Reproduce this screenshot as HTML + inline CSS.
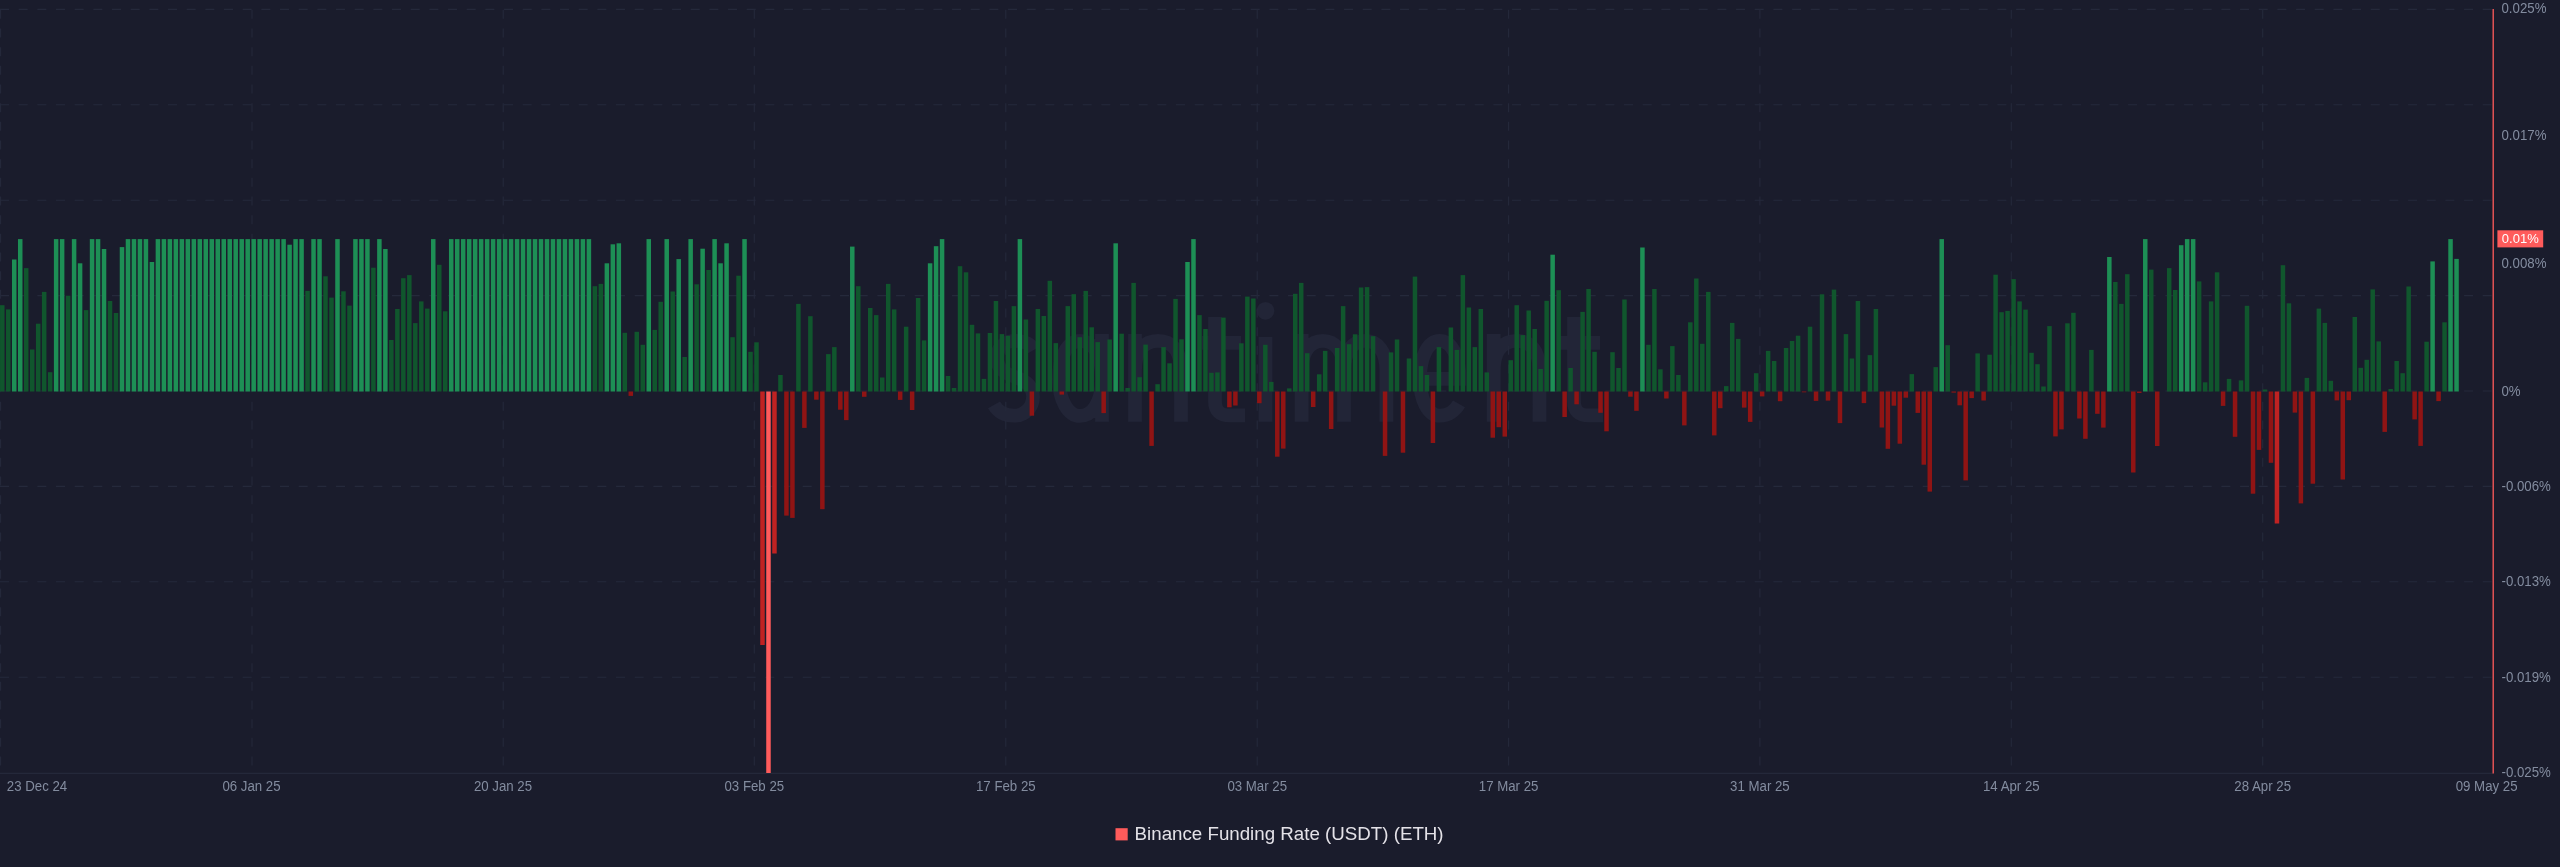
<!DOCTYPE html>
<html><head><meta charset="utf-8"><style>
html,body{margin:0;padding:0;background:#1a1c2c;width:2560px;height:867px;overflow:hidden}
svg{display:block;will-change:transform;filter:blur(0.3px)}
</style></head><body>
<svg width="2560" height="867" viewBox="0 0 2560 867">
<style>.t{font-family:"Liberation Sans",sans-serif;font-size:13.25px;fill:#838c9f}</style>
<rect width="2560" height="867" fill="#1a1c2c"/>
<path d="M1034 349.9 C1030 342.9 1023 340.9 1015 340.9 C1004 340.9 997 347.9 997 357.9 C997 369.9 1007 373.9 1015 376.9 C1026 380.9 1033 385.9 1033 396.9 C1033 406.9 1025 415.7 1014 415.7 C1005 415.7 998 411.9 994 404.9 M1102 334.0 V421.8 M1102 378.9 C1102 352.9 1092 340.9 1080 340.9 C1068 340.9 1059 355.9 1059 378.9 C1059 399.9 1068 415.9 1080 415.9 C1092 415.9 1102 402.9 1102 378.9 M1135 334.0 V421.8 M1135 421.8 V370.9 C1135 350.9 1144.0 340.9 1158.0 340.9 C1172.0 340.9 1181 350.9 1181 370.9 V421.8 M1215 317 V400.9 C1215 410.9 1220 415.4 1230 415.4 L1245 415.4 M1202 342.9 H1241 M1265.5 337.0 V421.8 M1301.6 334.0 V421.8 M1301.6 421.8 V370.9 C1301.6 350.9 1310.6 340.9 1322.8 340.9 C1335.0 340.9 1344 350.9 1344 370.9 V421.8 M1344 421.8 V370.9 C1344 350.9 1353.0 340.9 1365.2 340.9 C1377.4 340.9 1386.4 350.9 1386.4 370.9 V421.8 M1420 378.9 H1459.5 C1459.5 354.9 1451 340.9 1439.5 340.9 C1428 340.9 1420 356.9 1420 378.9 C1420 399.9 1428 415.7 1440 415.7 C1448 415.7 1455 410.9 1459 403.9 M1493.7 334.0 V421.8 M1493.7 421.8 V370.9 C1493.7 350.9 1502.7 340.9 1516.6 340.9 C1530.5 340.9 1539.5 350.9 1539.5 370.9 V421.8 M1574 317 V400.9 C1574 410.9 1579 415.4 1589 415.4 L1603 415.4 M1560 342.9 H1600" fill="none" stroke="#222537" stroke-width="13.8" stroke-linecap="butt"/><circle cx="1265.5" cy="310.8" r="8.9" fill="#222537"/>
<line x1="0" y1="9.4" x2="2493" y2="9.4" stroke="#25293b" stroke-width="1.1" stroke-dasharray="9 9.667"/>
<line x1="0" y1="104.8" x2="2493" y2="104.8" stroke="#25293b" stroke-width="1.1" stroke-dasharray="9 9.667"/>
<line x1="0" y1="200.2" x2="2493" y2="200.2" stroke="#25293b" stroke-width="1.1" stroke-dasharray="9 9.667"/>
<line x1="0" y1="295.6" x2="2493" y2="295.6" stroke="#25293b" stroke-width="1.1" stroke-dasharray="9 9.667"/>
<line x1="0" y1="391.0" x2="2493" y2="391.0" stroke="#25293b" stroke-width="1.1" stroke-dasharray="9 9.667"/>
<line x1="0" y1="486.4" x2="2493" y2="486.4" stroke="#25293b" stroke-width="1.1" stroke-dasharray="9 9.667"/>
<line x1="0" y1="581.8" x2="2493" y2="581.8" stroke="#25293b" stroke-width="1.1" stroke-dasharray="9 9.667"/>
<line x1="0" y1="677.2" x2="2493" y2="677.2" stroke="#25293b" stroke-width="1.1" stroke-dasharray="9 9.667"/>
<line x1="0.6" y1="9.8" x2="0.6" y2="773" stroke="#25293b" stroke-width="1.1" stroke-dasharray="9 9.667"/>
<line x1="252" y1="9.8" x2="252" y2="773" stroke="#25293b" stroke-width="1.1" stroke-dasharray="9 9.667"/>
<line x1="503.2" y1="9.8" x2="503.2" y2="773" stroke="#25293b" stroke-width="1.1" stroke-dasharray="9 9.667"/>
<line x1="754.3" y1="9.8" x2="754.3" y2="773" stroke="#25293b" stroke-width="1.1" stroke-dasharray="9 9.667"/>
<line x1="1005.8" y1="9.8" x2="1005.8" y2="773" stroke="#25293b" stroke-width="1.1" stroke-dasharray="9 9.667"/>
<line x1="1257.2" y1="9.8" x2="1257.2" y2="773" stroke="#25293b" stroke-width="1.1" stroke-dasharray="9 9.667"/>
<line x1="1508.6" y1="9.8" x2="1508.6" y2="773" stroke="#25293b" stroke-width="1.1" stroke-dasharray="9 9.667"/>
<line x1="1759.9" y1="9.8" x2="1759.9" y2="773" stroke="#25293b" stroke-width="1.1" stroke-dasharray="9 9.667"/>
<line x1="2011.3" y1="9.8" x2="2011.3" y2="773" stroke="#25293b" stroke-width="1.1" stroke-dasharray="9 9.667"/>
<line x1="2262.7" y1="9.8" x2="2262.7" y2="773" stroke="#25293b" stroke-width="1.1" stroke-dasharray="9 9.667"/>
<line x1="0" y1="773.4" x2="2493" y2="773.4" stroke="#24283a" stroke-width="1.2"/>
<rect x="0.02" y="305.20" width="4.5" height="86.30" fill="#10562d"/>
<rect x="6.01" y="309.40" width="4.5" height="82.10" fill="#10562d"/>
<rect x="11.99" y="259.50" width="4.5" height="132.00" fill="#1d8f55"/>
<rect x="17.98" y="239.10" width="4.5" height="152.40" fill="#1d8f55"/>
<rect x="23.96" y="268.10" width="4.5" height="123.40" fill="#10562d"/>
<rect x="29.95" y="349.50" width="4.5" height="42.00" fill="#10562d"/>
<rect x="35.94" y="323.70" width="4.5" height="67.80" fill="#10562d"/>
<rect x="41.92" y="291.90" width="4.5" height="99.60" fill="#10562d"/>
<rect x="47.91" y="372.20" width="4.5" height="19.30" fill="#10562d"/>
<rect x="53.89" y="239.10" width="4.5" height="152.40" fill="#1d8f55"/>
<rect x="59.88" y="239.10" width="4.5" height="152.40" fill="#1d8f55"/>
<rect x="65.87" y="295.70" width="4.5" height="95.80" fill="#10562d"/>
<rect x="71.85" y="239.10" width="4.5" height="152.40" fill="#1d8f55"/>
<rect x="77.84" y="263.30" width="4.5" height="128.20" fill="#1d8f55"/>
<rect x="83.82" y="310.10" width="4.5" height="81.40" fill="#10562d"/>
<rect x="89.81" y="239.10" width="4.5" height="152.40" fill="#1d8f55"/>
<rect x="95.80" y="239.10" width="4.5" height="152.40" fill="#1d8f55"/>
<rect x="101.78" y="249.00" width="4.5" height="142.50" fill="#1d8f55"/>
<rect x="107.77" y="301.00" width="4.5" height="90.50" fill="#10562d"/>
<rect x="113.75" y="313.00" width="4.5" height="78.50" fill="#10562d"/>
<rect x="119.74" y="247.10" width="4.5" height="144.40" fill="#1d8f55"/>
<rect x="125.73" y="239.10" width="4.5" height="152.40" fill="#1d8f55"/>
<rect x="131.71" y="239.10" width="4.5" height="152.40" fill="#1d8f55"/>
<rect x="137.70" y="239.10" width="4.5" height="152.40" fill="#1d8f55"/>
<rect x="143.68" y="239.10" width="4.5" height="152.40" fill="#1d8f55"/>
<rect x="149.67" y="262.00" width="4.5" height="129.50" fill="#1d8f55"/>
<rect x="155.66" y="239.10" width="4.5" height="152.40" fill="#1d8f55"/>
<rect x="161.64" y="239.10" width="4.5" height="152.40" fill="#1d8f55"/>
<rect x="167.63" y="239.10" width="4.5" height="152.40" fill="#1d8f55"/>
<rect x="173.61" y="239.10" width="4.5" height="152.40" fill="#1d8f55"/>
<rect x="179.60" y="239.10" width="4.5" height="152.40" fill="#1d8f55"/>
<rect x="185.59" y="239.10" width="4.5" height="152.40" fill="#1d8f55"/>
<rect x="191.57" y="239.10" width="4.5" height="152.40" fill="#1d8f55"/>
<rect x="197.56" y="239.10" width="4.5" height="152.40" fill="#1d8f55"/>
<rect x="203.54" y="239.10" width="4.5" height="152.40" fill="#1d8f55"/>
<rect x="209.53" y="239.10" width="4.5" height="152.40" fill="#1d8f55"/>
<rect x="215.52" y="239.10" width="4.5" height="152.40" fill="#1d8f55"/>
<rect x="221.50" y="239.10" width="4.5" height="152.40" fill="#1d8f55"/>
<rect x="227.49" y="239.10" width="4.5" height="152.40" fill="#1d8f55"/>
<rect x="233.47" y="239.10" width="4.5" height="152.40" fill="#1d8f55"/>
<rect x="239.46" y="239.10" width="4.5" height="152.40" fill="#1d8f55"/>
<rect x="245.45" y="239.10" width="4.5" height="152.40" fill="#1d8f55"/>
<rect x="251.43" y="239.10" width="4.5" height="152.40" fill="#1d8f55"/>
<rect x="257.42" y="239.10" width="4.5" height="152.40" fill="#1d8f55"/>
<rect x="263.40" y="239.10" width="4.5" height="152.40" fill="#1d8f55"/>
<rect x="269.39" y="239.10" width="4.5" height="152.40" fill="#1d8f55"/>
<rect x="275.38" y="239.10" width="4.5" height="152.40" fill="#1d8f55"/>
<rect x="281.36" y="239.10" width="4.5" height="152.40" fill="#1d8f55"/>
<rect x="287.35" y="244.70" width="4.5" height="146.80" fill="#1d8f55"/>
<rect x="293.33" y="239.10" width="4.5" height="152.40" fill="#1d8f55"/>
<rect x="299.32" y="239.10" width="4.5" height="152.40" fill="#1d8f55"/>
<rect x="305.31" y="290.90" width="4.5" height="100.60" fill="#10562d"/>
<rect x="311.29" y="239.10" width="4.5" height="152.40" fill="#1d8f55"/>
<rect x="317.28" y="239.10" width="4.5" height="152.40" fill="#1d8f55"/>
<rect x="323.26" y="276.30" width="4.5" height="115.20" fill="#10562d"/>
<rect x="329.25" y="297.60" width="4.5" height="93.90" fill="#10562d"/>
<rect x="335.24" y="239.10" width="4.5" height="152.40" fill="#1d8f55"/>
<rect x="341.22" y="291.30" width="4.5" height="100.20" fill="#10562d"/>
<rect x="347.21" y="305.60" width="4.5" height="85.90" fill="#10562d"/>
<rect x="353.19" y="239.10" width="4.5" height="152.40" fill="#1d8f55"/>
<rect x="359.18" y="239.10" width="4.5" height="152.40" fill="#1d8f55"/>
<rect x="365.17" y="239.10" width="4.5" height="152.40" fill="#1d8f55"/>
<rect x="371.15" y="267.70" width="4.5" height="123.80" fill="#10562d"/>
<rect x="377.14" y="239.10" width="4.5" height="152.40" fill="#1d8f55"/>
<rect x="383.12" y="249.00" width="4.5" height="142.50" fill="#1d8f55"/>
<rect x="389.11" y="340.00" width="4.5" height="51.50" fill="#10562d"/>
<rect x="395.10" y="309.00" width="4.5" height="82.50" fill="#10562d"/>
<rect x="401.08" y="278.20" width="4.5" height="113.30" fill="#10562d"/>
<rect x="407.07" y="275.10" width="4.5" height="116.40" fill="#10562d"/>
<rect x="413.05" y="323.10" width="4.5" height="68.40" fill="#10562d"/>
<rect x="419.04" y="301.40" width="4.5" height="90.10" fill="#10562d"/>
<rect x="425.03" y="308.60" width="4.5" height="82.90" fill="#10562d"/>
<rect x="431.01" y="239.10" width="4.5" height="152.40" fill="#1d8f55"/>
<rect x="437.00" y="264.80" width="4.5" height="126.70" fill="#10562d"/>
<rect x="442.98" y="311.30" width="4.5" height="80.20" fill="#10562d"/>
<rect x="448.97" y="239.10" width="4.5" height="152.40" fill="#1d8f55"/>
<rect x="454.96" y="239.10" width="4.5" height="152.40" fill="#1d8f55"/>
<rect x="460.94" y="239.10" width="4.5" height="152.40" fill="#1d8f55"/>
<rect x="466.93" y="239.10" width="4.5" height="152.40" fill="#1d8f55"/>
<rect x="472.91" y="239.10" width="4.5" height="152.40" fill="#1d8f55"/>
<rect x="478.90" y="239.10" width="4.5" height="152.40" fill="#1d8f55"/>
<rect x="484.89" y="239.10" width="4.5" height="152.40" fill="#1d8f55"/>
<rect x="490.87" y="239.10" width="4.5" height="152.40" fill="#1d8f55"/>
<rect x="496.86" y="239.10" width="4.5" height="152.40" fill="#1d8f55"/>
<rect x="502.84" y="239.10" width="4.5" height="152.40" fill="#1d8f55"/>
<rect x="508.83" y="239.10" width="4.5" height="152.40" fill="#1d8f55"/>
<rect x="514.82" y="239.10" width="4.5" height="152.40" fill="#1d8f55"/>
<rect x="520.80" y="239.10" width="4.5" height="152.40" fill="#1d8f55"/>
<rect x="526.79" y="239.10" width="4.5" height="152.40" fill="#1d8f55"/>
<rect x="532.77" y="239.10" width="4.5" height="152.40" fill="#1d8f55"/>
<rect x="538.76" y="239.10" width="4.5" height="152.40" fill="#1d8f55"/>
<rect x="544.75" y="239.10" width="4.5" height="152.40" fill="#1d8f55"/>
<rect x="550.73" y="239.10" width="4.5" height="152.40" fill="#1d8f55"/>
<rect x="556.72" y="239.10" width="4.5" height="152.40" fill="#1d8f55"/>
<rect x="562.70" y="239.10" width="4.5" height="152.40" fill="#1d8f55"/>
<rect x="568.69" y="239.10" width="4.5" height="152.40" fill="#1d8f55"/>
<rect x="574.68" y="239.10" width="4.5" height="152.40" fill="#1d8f55"/>
<rect x="580.66" y="239.10" width="4.5" height="152.40" fill="#1d8f55"/>
<rect x="586.65" y="239.10" width="4.5" height="152.40" fill="#1d8f55"/>
<rect x="592.63" y="286.20" width="4.5" height="105.30" fill="#10562d"/>
<rect x="598.62" y="283.90" width="4.5" height="107.60" fill="#10562d"/>
<rect x="604.61" y="263.30" width="4.5" height="128.20" fill="#1d8f55"/>
<rect x="610.59" y="244.30" width="4.5" height="147.20" fill="#1d8f55"/>
<rect x="616.58" y="243.30" width="4.5" height="148.20" fill="#1d8f55"/>
<rect x="622.56" y="332.80" width="4.5" height="58.70" fill="#10562d"/>
<rect x="628.55" y="391.5" width="4.5" height="4.40" fill="#901414"/>
<rect x="634.54" y="331.80" width="4.5" height="59.70" fill="#10562d"/>
<rect x="640.52" y="344.80" width="4.5" height="46.70" fill="#10562d"/>
<rect x="646.51" y="239.10" width="4.5" height="152.40" fill="#1d8f55"/>
<rect x="652.49" y="329.90" width="4.5" height="61.60" fill="#10562d"/>
<rect x="658.48" y="301.80" width="4.5" height="89.70" fill="#10562d"/>
<rect x="664.47" y="239.10" width="4.5" height="152.40" fill="#1d8f55"/>
<rect x="670.45" y="291.50" width="4.5" height="100.00" fill="#10562d"/>
<rect x="676.44" y="259.10" width="4.5" height="132.40" fill="#1d8f55"/>
<rect x="682.42" y="357.00" width="4.5" height="34.50" fill="#10562d"/>
<rect x="688.41" y="239.10" width="4.5" height="152.40" fill="#1d8f55"/>
<rect x="694.40" y="284.30" width="4.5" height="107.20" fill="#10562d"/>
<rect x="700.38" y="248.70" width="4.5" height="142.80" fill="#1d8f55"/>
<rect x="706.37" y="270.00" width="4.5" height="121.50" fill="#10562d"/>
<rect x="712.35" y="239.10" width="4.5" height="152.40" fill="#1d8f55"/>
<rect x="718.34" y="263.30" width="4.5" height="128.20" fill="#1d8f55"/>
<rect x="724.33" y="243.30" width="4.5" height="148.20" fill="#1d8f55"/>
<rect x="730.31" y="337.20" width="4.5" height="54.30" fill="#10562d"/>
<rect x="736.30" y="275.70" width="4.5" height="115.80" fill="#10562d"/>
<rect x="742.28" y="239.10" width="4.5" height="152.40" fill="#1d8f55"/>
<rect x="748.27" y="351.80" width="4.5" height="39.70" fill="#10562d"/>
<rect x="754.26" y="342.30" width="4.5" height="49.20" fill="#10562d"/>
<rect x="760.24" y="391.5" width="4.5" height="253.50" fill="#c02222"/>
<rect x="766.23" y="391.5" width="4.5" height="381.50" fill="#ff5b5b"/>
<rect x="772.21" y="391.5" width="4.5" height="162.00" fill="#c02222"/>
<rect x="778.20" y="375.00" width="4.5" height="16.50" fill="#10562d"/>
<rect x="784.19" y="391.5" width="4.5" height="124.10" fill="#901414"/>
<rect x="790.17" y="391.5" width="4.5" height="126.40" fill="#901414"/>
<rect x="796.16" y="303.90" width="4.5" height="87.60" fill="#10562d"/>
<rect x="802.14" y="391.5" width="4.5" height="36.40" fill="#901414"/>
<rect x="808.13" y="316.20" width="4.5" height="75.30" fill="#10562d"/>
<rect x="814.12" y="391.5" width="4.5" height="8.20" fill="#901414"/>
<rect x="820.10" y="391.5" width="4.5" height="117.70" fill="#901414"/>
<rect x="826.09" y="354.10" width="4.5" height="37.40" fill="#10562d"/>
<rect x="832.07" y="347.10" width="4.5" height="44.40" fill="#10562d"/>
<rect x="838.06" y="391.5" width="4.5" height="18.20" fill="#901414"/>
<rect x="844.05" y="391.5" width="4.5" height="28.60" fill="#901414"/>
<rect x="850.03" y="246.60" width="4.5" height="144.90" fill="#1d8f55"/>
<rect x="856.02" y="286.20" width="4.5" height="105.30" fill="#10562d"/>
<rect x="862.00" y="391.5" width="4.5" height="5.30" fill="#901414"/>
<rect x="867.99" y="308.00" width="4.5" height="83.50" fill="#10562d"/>
<rect x="873.98" y="315.10" width="4.5" height="76.40" fill="#10562d"/>
<rect x="879.96" y="377.50" width="4.5" height="14.00" fill="#10562d"/>
<rect x="885.95" y="283.90" width="4.5" height="107.60" fill="#10562d"/>
<rect x="891.93" y="309.40" width="4.5" height="82.10" fill="#10562d"/>
<rect x="897.92" y="391.5" width="4.5" height="8.40" fill="#901414"/>
<rect x="903.91" y="326.70" width="4.5" height="64.80" fill="#10562d"/>
<rect x="909.89" y="391.5" width="4.5" height="18.50" fill="#901414"/>
<rect x="915.88" y="298.00" width="4.5" height="93.50" fill="#10562d"/>
<rect x="921.86" y="340.40" width="4.5" height="51.10" fill="#10562d"/>
<rect x="927.85" y="263.30" width="4.5" height="128.20" fill="#1d8f55"/>
<rect x="933.84" y="246.20" width="4.5" height="145.30" fill="#1d8f55"/>
<rect x="939.82" y="239.10" width="4.5" height="152.40" fill="#1d8f55"/>
<rect x="945.81" y="376.00" width="4.5" height="15.50" fill="#10562d"/>
<rect x="951.79" y="388.00" width="4.5" height="3.50" fill="#10562d"/>
<rect x="957.78" y="266.20" width="4.5" height="125.30" fill="#10562d"/>
<rect x="963.77" y="272.30" width="4.5" height="119.20" fill="#10562d"/>
<rect x="969.75" y="324.80" width="4.5" height="66.70" fill="#10562d"/>
<rect x="975.74" y="333.40" width="4.5" height="58.10" fill="#10562d"/>
<rect x="981.72" y="378.90" width="4.5" height="12.60" fill="#10562d"/>
<rect x="987.71" y="333.00" width="4.5" height="58.50" fill="#10562d"/>
<rect x="993.70" y="301.00" width="4.5" height="90.50" fill="#10562d"/>
<rect x="999.68" y="334.10" width="4.5" height="57.40" fill="#10562d"/>
<rect x="1005.67" y="335.80" width="4.5" height="55.70" fill="#10562d"/>
<rect x="1011.65" y="306.10" width="4.5" height="85.40" fill="#10562d"/>
<rect x="1017.64" y="239.10" width="4.5" height="152.40" fill="#1d8f55"/>
<rect x="1023.63" y="319.50" width="4.5" height="72.00" fill="#10562d"/>
<rect x="1029.61" y="391.5" width="4.5" height="24.20" fill="#901414"/>
<rect x="1035.60" y="309.00" width="4.5" height="82.50" fill="#10562d"/>
<rect x="1041.58" y="316.00" width="4.5" height="75.50" fill="#10562d"/>
<rect x="1047.57" y="280.80" width="4.5" height="110.70" fill="#10562d"/>
<rect x="1053.56" y="343.10" width="4.5" height="48.40" fill="#10562d"/>
<rect x="1059.54" y="391.5" width="4.5" height="3.10" fill="#901414"/>
<rect x="1065.53" y="306.10" width="4.5" height="85.40" fill="#10562d"/>
<rect x="1071.51" y="294.20" width="4.5" height="97.30" fill="#10562d"/>
<rect x="1077.50" y="337.20" width="4.5" height="54.30" fill="#10562d"/>
<rect x="1083.49" y="290.90" width="4.5" height="100.60" fill="#10562d"/>
<rect x="1089.47" y="327.30" width="4.5" height="64.20" fill="#10562d"/>
<rect x="1095.46" y="342.10" width="4.5" height="49.40" fill="#10562d"/>
<rect x="1101.44" y="391.5" width="4.5" height="21.60" fill="#901414"/>
<rect x="1107.43" y="339.50" width="4.5" height="52.00" fill="#10562d"/>
<rect x="1113.42" y="243.30" width="4.5" height="148.20" fill="#1d8f55"/>
<rect x="1119.40" y="333.70" width="4.5" height="57.80" fill="#10562d"/>
<rect x="1125.39" y="388.00" width="4.5" height="3.50" fill="#10562d"/>
<rect x="1131.37" y="282.90" width="4.5" height="108.60" fill="#10562d"/>
<rect x="1137.36" y="377.20" width="4.5" height="14.30" fill="#10562d"/>
<rect x="1143.35" y="344.60" width="4.5" height="46.90" fill="#10562d"/>
<rect x="1149.33" y="391.5" width="4.5" height="54.40" fill="#901414"/>
<rect x="1155.32" y="384.20" width="4.5" height="7.30" fill="#10562d"/>
<rect x="1161.30" y="347.10" width="4.5" height="44.40" fill="#10562d"/>
<rect x="1167.29" y="363.30" width="4.5" height="28.20" fill="#10562d"/>
<rect x="1173.28" y="298.90" width="4.5" height="92.60" fill="#10562d"/>
<rect x="1179.26" y="339.30" width="4.5" height="52.20" fill="#10562d"/>
<rect x="1185.25" y="262.00" width="4.5" height="129.50" fill="#1d8f55"/>
<rect x="1191.23" y="239.10" width="4.5" height="152.40" fill="#1d8f55"/>
<rect x="1197.22" y="315.10" width="4.5" height="76.40" fill="#10562d"/>
<rect x="1203.21" y="329.00" width="4.5" height="62.50" fill="#10562d"/>
<rect x="1209.19" y="372.80" width="4.5" height="18.70" fill="#10562d"/>
<rect x="1215.18" y="372.40" width="4.5" height="19.10" fill="#10562d"/>
<rect x="1221.16" y="317.60" width="4.5" height="73.90" fill="#10562d"/>
<rect x="1227.15" y="391.5" width="4.5" height="15.80" fill="#901414"/>
<rect x="1233.14" y="391.5" width="4.5" height="14.00" fill="#901414"/>
<rect x="1239.12" y="343.30" width="4.5" height="48.20" fill="#10562d"/>
<rect x="1245.11" y="296.60" width="4.5" height="94.90" fill="#10562d"/>
<rect x="1251.09" y="298.50" width="4.5" height="93.00" fill="#10562d"/>
<rect x="1257.08" y="391.5" width="4.5" height="11.70" fill="#901414"/>
<rect x="1263.07" y="344.80" width="4.5" height="46.70" fill="#10562d"/>
<rect x="1269.05" y="381.90" width="4.5" height="9.60" fill="#10562d"/>
<rect x="1275.04" y="391.5" width="4.5" height="65.20" fill="#901414"/>
<rect x="1281.02" y="391.5" width="4.5" height="57.10" fill="#901414"/>
<rect x="1287.01" y="388.40" width="4.5" height="3.10" fill="#10562d"/>
<rect x="1293.00" y="293.80" width="4.5" height="97.70" fill="#10562d"/>
<rect x="1298.98" y="282.90" width="4.5" height="108.60" fill="#10562d"/>
<rect x="1304.97" y="353.20" width="4.5" height="38.30" fill="#10562d"/>
<rect x="1310.95" y="391.5" width="4.5" height="15.50" fill="#901414"/>
<rect x="1316.94" y="374.30" width="4.5" height="17.20" fill="#10562d"/>
<rect x="1322.93" y="350.90" width="4.5" height="40.60" fill="#10562d"/>
<rect x="1328.91" y="391.5" width="4.5" height="37.50" fill="#901414"/>
<rect x="1334.90" y="348.00" width="4.5" height="43.50" fill="#10562d"/>
<rect x="1340.88" y="306.10" width="4.5" height="85.40" fill="#10562d"/>
<rect x="1346.87" y="344.20" width="4.5" height="47.30" fill="#10562d"/>
<rect x="1352.86" y="334.30" width="4.5" height="57.20" fill="#10562d"/>
<rect x="1358.84" y="287.50" width="4.5" height="104.00" fill="#10562d"/>
<rect x="1364.83" y="287.10" width="4.5" height="104.40" fill="#10562d"/>
<rect x="1370.81" y="336.20" width="4.5" height="55.30" fill="#10562d"/>
<rect x="1382.79" y="391.5" width="4.5" height="64.40" fill="#901414"/>
<rect x="1388.77" y="352.40" width="4.5" height="39.10" fill="#10562d"/>
<rect x="1394.76" y="339.50" width="4.5" height="52.00" fill="#10562d"/>
<rect x="1400.74" y="391.5" width="4.5" height="61.20" fill="#901414"/>
<rect x="1406.73" y="358.50" width="4.5" height="33.00" fill="#10562d"/>
<rect x="1412.72" y="276.60" width="4.5" height="114.90" fill="#10562d"/>
<rect x="1418.70" y="366.10" width="4.5" height="25.40" fill="#10562d"/>
<rect x="1424.69" y="375.00" width="4.5" height="16.50" fill="#10562d"/>
<rect x="1430.67" y="391.5" width="4.5" height="51.50" fill="#901414"/>
<rect x="1436.66" y="347.10" width="4.5" height="44.40" fill="#10562d"/>
<rect x="1448.63" y="327.50" width="4.5" height="64.00" fill="#10562d"/>
<rect x="1454.62" y="349.90" width="4.5" height="41.60" fill="#10562d"/>
<rect x="1460.60" y="275.10" width="4.5" height="116.40" fill="#10562d"/>
<rect x="1466.59" y="307.50" width="4.5" height="84.00" fill="#10562d"/>
<rect x="1472.58" y="347.10" width="4.5" height="44.40" fill="#10562d"/>
<rect x="1478.56" y="309.00" width="4.5" height="82.50" fill="#10562d"/>
<rect x="1484.55" y="372.40" width="4.5" height="19.10" fill="#10562d"/>
<rect x="1490.53" y="391.5" width="4.5" height="46.20" fill="#901414"/>
<rect x="1496.52" y="391.5" width="4.5" height="35.70" fill="#901414"/>
<rect x="1502.51" y="391.5" width="4.5" height="45.10" fill="#901414"/>
<rect x="1508.49" y="360.20" width="4.5" height="31.30" fill="#10562d"/>
<rect x="1514.48" y="305.20" width="4.5" height="86.30" fill="#10562d"/>
<rect x="1520.46" y="335.10" width="4.5" height="56.40" fill="#10562d"/>
<rect x="1526.45" y="310.50" width="4.5" height="81.00" fill="#10562d"/>
<rect x="1532.44" y="329.00" width="4.5" height="62.50" fill="#10562d"/>
<rect x="1538.42" y="369.00" width="4.5" height="22.50" fill="#10562d"/>
<rect x="1544.41" y="300.80" width="4.5" height="90.70" fill="#10562d"/>
<rect x="1550.39" y="254.70" width="4.5" height="136.80" fill="#1d8f55"/>
<rect x="1556.38" y="290.20" width="4.5" height="101.30" fill="#10562d"/>
<rect x="1562.37" y="391.5" width="4.5" height="25.50" fill="#901414"/>
<rect x="1568.35" y="368.00" width="4.5" height="23.50" fill="#10562d"/>
<rect x="1574.34" y="391.5" width="4.5" height="12.80" fill="#901414"/>
<rect x="1580.32" y="311.90" width="4.5" height="79.60" fill="#10562d"/>
<rect x="1586.31" y="289.00" width="4.5" height="102.50" fill="#10562d"/>
<rect x="1592.30" y="351.80" width="4.5" height="39.70" fill="#10562d"/>
<rect x="1598.28" y="391.5" width="4.5" height="21.30" fill="#901414"/>
<rect x="1604.27" y="391.5" width="4.5" height="39.80" fill="#901414"/>
<rect x="1610.25" y="352.20" width="4.5" height="39.30" fill="#10562d"/>
<rect x="1616.24" y="368.00" width="4.5" height="23.50" fill="#10562d"/>
<rect x="1622.23" y="299.50" width="4.5" height="92.00" fill="#10562d"/>
<rect x="1628.21" y="391.5" width="4.5" height="5.20" fill="#901414"/>
<rect x="1634.20" y="391.5" width="4.5" height="19.30" fill="#901414"/>
<rect x="1640.18" y="247.50" width="4.5" height="144.00" fill="#1d8f55"/>
<rect x="1646.17" y="344.80" width="4.5" height="46.70" fill="#10562d"/>
<rect x="1652.16" y="289.00" width="4.5" height="102.50" fill="#10562d"/>
<rect x="1658.14" y="369.30" width="4.5" height="22.20" fill="#10562d"/>
<rect x="1664.13" y="391.5" width="4.5" height="7.00" fill="#901414"/>
<rect x="1670.11" y="346.10" width="4.5" height="45.40" fill="#10562d"/>
<rect x="1676.10" y="375.00" width="4.5" height="16.50" fill="#10562d"/>
<rect x="1682.09" y="391.5" width="4.5" height="33.90" fill="#901414"/>
<rect x="1688.07" y="322.30" width="4.5" height="69.20" fill="#10562d"/>
<rect x="1694.06" y="278.50" width="4.5" height="113.00" fill="#10562d"/>
<rect x="1700.04" y="343.80" width="4.5" height="47.70" fill="#10562d"/>
<rect x="1706.03" y="291.90" width="4.5" height="99.60" fill="#10562d"/>
<rect x="1712.02" y="391.5" width="4.5" height="43.90" fill="#901414"/>
<rect x="1718.00" y="391.5" width="4.5" height="16.70" fill="#901414"/>
<rect x="1723.99" y="386.10" width="4.5" height="5.40" fill="#10562d"/>
<rect x="1729.97" y="322.90" width="4.5" height="68.60" fill="#10562d"/>
<rect x="1735.96" y="338.90" width="4.5" height="52.60" fill="#10562d"/>
<rect x="1741.95" y="391.5" width="4.5" height="16.10" fill="#901414"/>
<rect x="1747.93" y="391.5" width="4.5" height="30.40" fill="#901414"/>
<rect x="1753.92" y="373.20" width="4.5" height="18.30" fill="#10562d"/>
<rect x="1759.90" y="391.5" width="4.5" height="4.90" fill="#901414"/>
<rect x="1765.89" y="350.90" width="4.5" height="40.60" fill="#10562d"/>
<rect x="1771.88" y="361.00" width="4.5" height="30.50" fill="#10562d"/>
<rect x="1777.86" y="391.5" width="4.5" height="9.70" fill="#901414"/>
<rect x="1783.85" y="348.00" width="4.5" height="43.50" fill="#10562d"/>
<rect x="1789.83" y="341.00" width="4.5" height="50.50" fill="#10562d"/>
<rect x="1795.82" y="335.70" width="4.5" height="55.80" fill="#10562d"/>
<rect x="1801.81" y="391.5" width="4.5" height="0.80" fill="#901414"/>
<rect x="1807.79" y="326.70" width="4.5" height="64.80" fill="#10562d"/>
<rect x="1813.78" y="391.5" width="4.5" height="9.40" fill="#901414"/>
<rect x="1819.76" y="294.30" width="4.5" height="97.20" fill="#10562d"/>
<rect x="1825.75" y="391.5" width="4.5" height="9.10" fill="#901414"/>
<rect x="1831.74" y="289.60" width="4.5" height="101.90" fill="#10562d"/>
<rect x="1837.72" y="391.5" width="4.5" height="31.60" fill="#901414"/>
<rect x="1843.71" y="334.10" width="4.5" height="57.40" fill="#10562d"/>
<rect x="1849.69" y="358.50" width="4.5" height="33.00" fill="#10562d"/>
<rect x="1855.68" y="301.00" width="4.5" height="90.50" fill="#10562d"/>
<rect x="1861.67" y="391.5" width="4.5" height="11.60" fill="#901414"/>
<rect x="1867.65" y="355.10" width="4.5" height="36.40" fill="#10562d"/>
<rect x="1873.64" y="309.00" width="4.5" height="82.50" fill="#10562d"/>
<rect x="1879.62" y="391.5" width="4.5" height="36.00" fill="#901414"/>
<rect x="1885.61" y="391.5" width="4.5" height="57.30" fill="#901414"/>
<rect x="1891.60" y="391.5" width="4.5" height="14.20" fill="#901414"/>
<rect x="1897.58" y="391.5" width="4.5" height="52.20" fill="#901414"/>
<rect x="1903.57" y="391.5" width="4.5" height="6.20" fill="#901414"/>
<rect x="1909.55" y="374.10" width="4.5" height="17.40" fill="#10562d"/>
<rect x="1915.54" y="391.5" width="4.5" height="21.40" fill="#901414"/>
<rect x="1921.53" y="391.5" width="4.5" height="73.20" fill="#901414"/>
<rect x="1927.51" y="391.5" width="4.5" height="100.10" fill="#901414"/>
<rect x="1933.50" y="367.10" width="4.5" height="24.40" fill="#10562d"/>
<rect x="1939.48" y="239.10" width="4.5" height="152.40" fill="#1d8f55"/>
<rect x="1945.47" y="345.20" width="4.5" height="46.30" fill="#10562d"/>
<rect x="1951.46" y="391.5" width="4.5" height="1.10" fill="#901414"/>
<rect x="1957.44" y="391.5" width="4.5" height="13.80" fill="#901414"/>
<rect x="1963.43" y="391.5" width="4.5" height="88.90" fill="#901414"/>
<rect x="1969.41" y="391.5" width="4.5" height="6.60" fill="#901414"/>
<rect x="1975.40" y="353.40" width="4.5" height="38.10" fill="#10562d"/>
<rect x="1981.39" y="391.5" width="4.5" height="9.00" fill="#901414"/>
<rect x="1987.37" y="354.70" width="4.5" height="36.80" fill="#10562d"/>
<rect x="1993.36" y="274.70" width="4.5" height="116.80" fill="#10562d"/>
<rect x="1999.34" y="312.20" width="4.5" height="79.30" fill="#10562d"/>
<rect x="2005.33" y="310.90" width="4.5" height="80.60" fill="#10562d"/>
<rect x="2011.32" y="279.10" width="4.5" height="112.40" fill="#10562d"/>
<rect x="2017.30" y="301.40" width="4.5" height="90.10" fill="#10562d"/>
<rect x="2023.29" y="309.60" width="4.5" height="81.90" fill="#10562d"/>
<rect x="2029.27" y="352.80" width="4.5" height="38.70" fill="#10562d"/>
<rect x="2035.26" y="364.20" width="4.5" height="27.30" fill="#10562d"/>
<rect x="2041.25" y="386.50" width="4.5" height="5.00" fill="#10562d"/>
<rect x="2047.23" y="326.10" width="4.5" height="65.40" fill="#10562d"/>
<rect x="2053.22" y="391.5" width="4.5" height="44.90" fill="#901414"/>
<rect x="2059.20" y="391.5" width="4.5" height="37.90" fill="#901414"/>
<rect x="2065.19" y="323.30" width="4.5" height="68.20" fill="#10562d"/>
<rect x="2071.18" y="312.80" width="4.5" height="78.70" fill="#10562d"/>
<rect x="2077.16" y="391.5" width="4.5" height="27.00" fill="#901414"/>
<rect x="2083.15" y="391.5" width="4.5" height="47.30" fill="#901414"/>
<rect x="2089.13" y="349.90" width="4.5" height="41.60" fill="#10562d"/>
<rect x="2095.12" y="391.5" width="4.5" height="22.30" fill="#901414"/>
<rect x="2101.11" y="391.5" width="4.5" height="36.10" fill="#901414"/>
<rect x="2107.09" y="257.00" width="4.5" height="134.50" fill="#1d8f55"/>
<rect x="2113.08" y="282.00" width="4.5" height="109.50" fill="#10562d"/>
<rect x="2119.06" y="303.90" width="4.5" height="87.60" fill="#10562d"/>
<rect x="2125.05" y="274.20" width="4.5" height="117.30" fill="#10562d"/>
<rect x="2131.04" y="391.5" width="4.5" height="81.00" fill="#901414"/>
<rect x="2137.02" y="391.5" width="4.5" height="1.50" fill="#901414"/>
<rect x="2143.01" y="239.10" width="4.5" height="152.40" fill="#1d8f55"/>
<rect x="2148.99" y="269.60" width="4.5" height="121.90" fill="#10562d"/>
<rect x="2154.98" y="391.5" width="4.5" height="54.50" fill="#901414"/>
<rect x="2166.95" y="268.10" width="4.5" height="123.40" fill="#10562d"/>
<rect x="2172.94" y="290.00" width="4.5" height="101.50" fill="#10562d"/>
<rect x="2178.92" y="245.20" width="4.5" height="146.30" fill="#1d8f55"/>
<rect x="2184.91" y="239.10" width="4.5" height="152.40" fill="#1d8f55"/>
<rect x="2190.90" y="239.10" width="4.5" height="152.40" fill="#1d8f55"/>
<rect x="2196.88" y="281.40" width="4.5" height="110.10" fill="#10562d"/>
<rect x="2202.87" y="382.30" width="4.5" height="9.20" fill="#10562d"/>
<rect x="2208.85" y="301.40" width="4.5" height="90.10" fill="#10562d"/>
<rect x="2214.84" y="272.30" width="4.5" height="119.20" fill="#10562d"/>
<rect x="2220.83" y="391.5" width="4.5" height="14.40" fill="#901414"/>
<rect x="2226.81" y="378.90" width="4.5" height="12.60" fill="#10562d"/>
<rect x="2232.80" y="391.5" width="4.5" height="45.30" fill="#901414"/>
<rect x="2238.78" y="380.40" width="4.5" height="11.10" fill="#10562d"/>
<rect x="2244.77" y="305.80" width="4.5" height="85.70" fill="#10562d"/>
<rect x="2250.76" y="391.5" width="4.5" height="102.20" fill="#901414"/>
<rect x="2256.74" y="391.5" width="4.5" height="58.40" fill="#901414"/>
<rect x="2262.73" y="389.50" width="4.5" height="2.00" fill="#10562d"/>
<rect x="2268.71" y="391.5" width="4.5" height="71.30" fill="#901414"/>
<rect x="2274.70" y="391.5" width="4.5" height="132.00" fill="#c02222"/>
<rect x="2280.69" y="265.20" width="4.5" height="126.30" fill="#10562d"/>
<rect x="2286.67" y="303.30" width="4.5" height="88.20" fill="#10562d"/>
<rect x="2292.66" y="391.5" width="4.5" height="21.10" fill="#901414"/>
<rect x="2298.64" y="391.5" width="4.5" height="111.90" fill="#901414"/>
<rect x="2304.63" y="377.90" width="4.5" height="13.60" fill="#10562d"/>
<rect x="2310.62" y="391.5" width="4.5" height="92.20" fill="#901414"/>
<rect x="2316.60" y="308.60" width="4.5" height="82.90" fill="#10562d"/>
<rect x="2322.59" y="322.90" width="4.5" height="68.60" fill="#10562d"/>
<rect x="2328.57" y="380.80" width="4.5" height="10.70" fill="#10562d"/>
<rect x="2334.56" y="391.5" width="4.5" height="8.90" fill="#901414"/>
<rect x="2340.55" y="391.5" width="4.5" height="88.00" fill="#901414"/>
<rect x="2346.53" y="391.5" width="4.5" height="8.70" fill="#901414"/>
<rect x="2352.52" y="317.00" width="4.5" height="74.50" fill="#10562d"/>
<rect x="2358.50" y="367.80" width="4.5" height="23.70" fill="#10562d"/>
<rect x="2364.49" y="359.80" width="4.5" height="31.70" fill="#10562d"/>
<rect x="2370.48" y="289.40" width="4.5" height="102.10" fill="#10562d"/>
<rect x="2376.46" y="341.40" width="4.5" height="50.10" fill="#10562d"/>
<rect x="2382.45" y="391.5" width="4.5" height="40.40" fill="#901414"/>
<rect x="2388.43" y="389.00" width="4.5" height="2.50" fill="#10562d"/>
<rect x="2394.42" y="361.00" width="4.5" height="30.50" fill="#10562d"/>
<rect x="2400.41" y="373.20" width="4.5" height="18.30" fill="#10562d"/>
<rect x="2406.39" y="286.50" width="4.5" height="105.00" fill="#10562d"/>
<rect x="2412.38" y="391.5" width="4.5" height="27.90" fill="#901414"/>
<rect x="2418.36" y="391.5" width="4.5" height="54.40" fill="#901414"/>
<rect x="2424.35" y="341.70" width="4.5" height="49.80" fill="#10562d"/>
<rect x="2430.34" y="261.40" width="4.5" height="130.10" fill="#1d8f55"/>
<rect x="2436.32" y="391.5" width="4.5" height="9.60" fill="#901414"/>
<rect x="2442.31" y="322.30" width="4.5" height="69.20" fill="#10562d"/>
<rect x="2448.29" y="239.10" width="4.5" height="152.40" fill="#1d8f55"/>
<rect x="2454.28" y="258.90" width="4.5" height="132.60" fill="#1d8f55"/>
<line x1="2493.2" y1="9.0" x2="2493.2" y2="773.5" stroke="#ff5b5b" stroke-width="1.3"/>
<rect x="2497.4" y="230.3" width="45.8" height="17.1" fill="#ff5b5b"/>
<text x="2520.3" y="242.6" font-family="Liberation Sans, sans-serif" font-size="13" fill="#ffffff" text-anchor="middle">0.01%</text>
<text transform="translate(2501.5,12.9) scale(1,1.08)" class="t">0.025%</text>
<text transform="translate(2501.5,140.4) scale(1,1.08)" class="t">0.017%</text>
<text transform="translate(2501.5,267.8) scale(1,1.08)" class="t">0.008%</text>
<text transform="translate(2501.5,395.6) scale(1,1.08)" class="t">0%</text>
<text transform="translate(2501.5,491.0) scale(1,1.08)" class="t">-0.006%</text>
<text transform="translate(2501.5,586.4) scale(1,1.08)" class="t">-0.013%</text>
<text transform="translate(2501.5,681.8) scale(1,1.08)" class="t">-0.019%</text>
<text transform="translate(2501.5,777.2) scale(1,1.08)" class="t">-0.025%</text>
<text transform="translate(6.8,791) scale(1,1.08)" class="t">23 Dec 24</text>
<text transform="translate(251.5,791) scale(1,1.08)" class="t" text-anchor="middle">06 Jan 25</text>
<text transform="translate(503,791) scale(1,1.08)" class="t" text-anchor="middle">20 Jan 25</text>
<text transform="translate(754.3,791) scale(1,1.08)" class="t" text-anchor="middle">03 Feb 25</text>
<text transform="translate(1005.8,791) scale(1,1.08)" class="t" text-anchor="middle">17 Feb 25</text>
<text transform="translate(1257.2,791) scale(1,1.08)" class="t" text-anchor="middle">03 Mar 25</text>
<text transform="translate(1508.6,791) scale(1,1.08)" class="t" text-anchor="middle">17 Mar 25</text>
<text transform="translate(1759.9,791) scale(1,1.08)" class="t" text-anchor="middle">31 Mar 25</text>
<text transform="translate(2011.3,791) scale(1,1.08)" class="t" text-anchor="middle">14 Apr 25</text>
<text transform="translate(2262.7,791) scale(1,1.08)" class="t" text-anchor="middle">28 Apr 25</text>
<text transform="translate(2486.6,791) scale(1,1.08)" class="t" text-anchor="middle">09 May 25</text>
<rect x="1115.5" y="828.2" width="12.2" height="12.2" fill="#ff5b5b"/>
<text x="1134.6" y="840.3" font-family="Liberation Sans, sans-serif" font-size="18" textLength="309" lengthAdjust="spacingAndGlyphs" fill="#e4e2e8">Binance Funding Rate (USDT) (ETH)</text>
</svg>
</body></html>
